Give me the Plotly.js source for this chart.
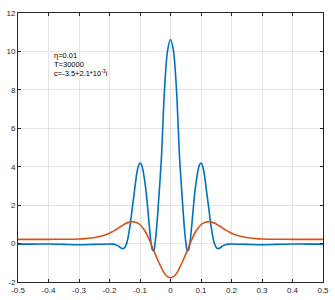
<!DOCTYPE html>
<html>
<head>
<meta charset="utf-8">
<script src="https://cdn.plot.ly/plotly-3.0.1.min.js"></script>
<style>html,body{margin:0;padding:0;background:#fff;}#plot{width:335px;height:300px;}</style>
</head>
<body>
<div id="plot"></div>
<script>
// Half-profiles (x >= 0), curves are symmetric about x = 0
var xBlueHalf = [0, 0.01, 0.02, 0.03, 0.04, 0.045, 0.05, 0.055, 0.06, 0.065, 0.07, 0.075, 0.08, 0.085, 0.09, 0.095, 0.1, 0.105, 0.11, 0.115, 0.12, 0.125, 0.13, 0.135, 0.14, 0.145, 0.15, 0.155, 0.16, 0.165, 0.17, 0.18, 0.19, 0.2, 0.25, 0.3, 0.35, 0.4, 0.45, 0.5];
var yBlueHalf = [10.62, 10.0, 7.9, 4.4, 2.0, 0.9, 0.1, -0.38, -0.3, 0.2, 1.0, 1.9, 2.7, 3.3, 3.8, 4.1, 4.19, 4.05, 3.7, 3.15, 2.5, 1.9, 1.25, 0.7, 0.25, -0.05, -0.2, -0.26, -0.25, -0.2, -0.13, -0.06, -0.03, -0.02, -0.04, -0.06, -0.04, -0.02, -0.03, -0.03];
var xRedHalf = [0, 0.01, 0.02, 0.03, 0.04, 0.05, 0.06, 0.07, 0.08, 0.09, 0.1, 0.11, 0.12, 0.13, 0.14, 0.15, 0.16, 0.17, 0.18, 0.19, 0.2, 0.22, 0.24, 0.26, 0.28, 0.3, 0.35, 0.4, 0.5];
var yRedHalf = [-1.78, -1.72, -1.55, -1.25, -0.92, -0.55, -0.15, 0.22, 0.55, 0.8, 0.98, 1.08, 1.13, 1.13, 1.09, 1.02, 0.92, 0.82, 0.71, 0.62, 0.54, 0.42, 0.34, 0.29, 0.26, 0.24, 0.225, 0.22, 0.22];

var xTickVals = [-0.5, -0.4, -0.3, -0.2, -0.1, 0, 0.1, 0.2, 0.3, 0.4, 0.5];
var xTickText = ["-0.5", "-0.4", "-0.3", "-0.2", "-0.1", "0", "0.1", "0.2", "0.3", "0.4", "0.5"];
var yTickVals = [-2, 0, 2, 4, 6, 8, 10, 12];
var yTickText = ["-2", "0", "2", "4", "6", "8", "10", "12"];
var labels = ["\u03b7=0.01", "T=30000", "c=-3.5+2.1*10<sup>-3</sup>i"];
var labelY = [9.78, 9.33, 8.9];

function mirror(xh, yh) {
  var xs = [], ys = [];
  for (var i = xh.length - 1; i > 0; i--) { xs.push(-xh[i]); ys.push(yh[i]); }
  for (var j = 0; j < xh.length; j++) { xs.push(xh[j]); ys.push(yh[j]); }
  return {x: xs, y: ys};
}
var b = mirror(xBlueHalf, yBlueHalf);
var r = mirror(xRedHalf, yRedHalf);

var traces = [
  {x: b.x, y: b.y, mode: 'lines', line: {color: '#0072BD', width: 1.6, shape: 'spline', smoothing: 0.8}, hoverinfo: 'none'},
  {x: r.x, y: r.y, mode: 'lines', line: {color: '#D95319', width: 1.6, shape: 'spline', smoothing: 0.8}, hoverinfo: 'none'}
];

var axCommon = {
  showgrid: true, gridcolor: '#e3e3e3', gridwidth: 1,
  zeroline: false, showline: true, linecolor: '#262626', linewidth: 1,
  mirror: 'ticks', ticks: 'inside', ticklen: 3, tickcolor: '#262626',
  tickfont: {family: 'Liberation Sans, Arial, sans-serif', size: 8, color: '#262626'},
  tickmode: 'array'
};

var layout = {
  width: 335, height: 300,
  margin: {l: 18, r: 12, t: 13, b: 18},
  paper_bgcolor: '#fff', plot_bgcolor: '#fff',
  showlegend: false,
  xaxis: Object.assign({}, axCommon, {range: [-0.5, 0.5], tickvals: xTickVals, ticktext: xTickText, ticklabelstandoff: 0}),
  yaxis: Object.assign({}, axCommon, {range: [-2, 12], tickvals: yTickVals, ticktext: yTickText}),
  annotations: labels.map(function (t, i) {
    return {x: -0.39, y: labelY[i], xref: 'x', yref: 'y', text: t, showarrow: false,
      xanchor: 'left', yanchor: 'middle',
      font: {family: 'Liberation Sans, Arial, sans-serif', size: 7.5, color: '#000'}};
  })
};

Plotly.newPlot('plot', traces, layout, {staticPlot: true, displayModeBar: false});
</script>
</body>
</html>
